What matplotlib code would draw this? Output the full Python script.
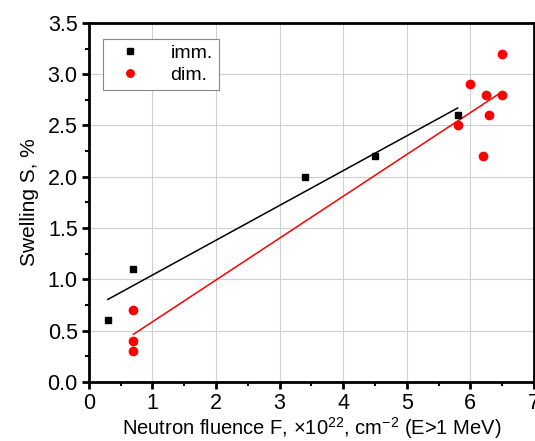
import numpy as np
import matplotlib.pyplot as plt
from matplotlib.ticker import MultipleLocator

plt.rcParams['font.family'] = ['Liberation Sans', 'DejaVu Sans']
plt.rcParams['mathtext.default'] = 'regular'

# imm. data
imm_x = [0.3, 0.7, 3.4, 4.5, 5.8]
imm_y = [0.6, 1.1, 2.0, 2.2, 2.6]

# dim. data
dim_x = [0.7, 0.7, 0.7, 5.8, 6.0, 6.2, 6.25, 6.3, 6.5, 6.5]
dim_y = [0.7, 0.4, 0.3, 2.5, 2.9, 2.2, 2.8, 2.6, 3.2, 2.8]


def linfit(x, y):
    k, b = np.polyfit(x, y, 1)
    xs = np.array([min(x), max(x)])
    return xs, k * xs + b


fig = plt.figure(figsize=(5.35, 4.41), dpi=100)
ax = fig.add_axes([0.166, 0.134, 0.832, 0.814])

ax.plot(imm_x, imm_y, 's', color='black', ms=5, label='imm.', zorder=3)
ax.plot(dim_x, dim_y, 'o', color='red', ms=6, label='dim.', zorder=3)

fx, fy = linfit(imm_x, imm_y)
ax.plot(fx, fy, color='black', lw=1.1)
fx, fy = linfit(dim_x, dim_y)
ax.plot(fx, fy, color='red', lw=1.1)

ax.set_xlim(0, 7)
ax.set_ylim(0, 3.5)
ax.xaxis.set_major_locator(MultipleLocator(1))
ax.xaxis.set_minor_locator(MultipleLocator(0.5))
ax.yaxis.set_major_locator(MultipleLocator(0.5))
ax.yaxis.set_minor_locator(MultipleLocator(0.25))
ax.yaxis.set_major_formatter(plt.FormatStrFormatter('%.1f'))

ax.grid(True, which='major', color='#d0d0d0', lw=0.8)
ax.set_axisbelow(True)
for s in ax.spines.values():
    s.set_linewidth(2)
ax.tick_params(which='major', direction='out', length=5, width=2, labelsize=15.5, pad=3)
ax.tick_params(which='minor', direction='out', length=3, width=1.5)

ax.set_xlabel('Neutron fluence F, $\\times$10$^{22}$, cm$^{-2}$ (E>1 MeV)', fontsize=14.5, labelpad=1)
ax.set_ylabel('Swelling S, %', fontsize=15, labelpad=6)

leg = ax.legend(loc='upper left', bbox_to_anchor=(0.009, 0.983), fontsize=14,
                fancybox=False, framealpha=1, edgecolor='#888888',
                handletextpad=1.0, handlelength=2.2, borderpad=0.3,
                labelspacing=0.2, markerscale=0.9)
leg.get_frame().set_linewidth(0.8)

fig.savefig('out.png', dpi=100)
